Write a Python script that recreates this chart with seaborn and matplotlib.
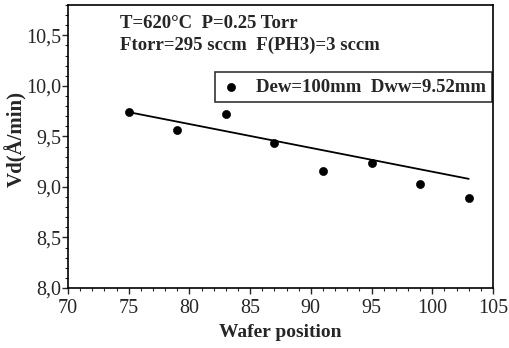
import matplotlib
matplotlib.use("Agg")
import matplotlib.pyplot as plt
from matplotlib.ticker import MultipleLocator, FuncFormatter
import seaborn as sns
import pandas as pd

# wafer positions and deposition rates
wafer_pos = [75, 79, 83, 87, 91, 95, 99, 103]
vd_rate = [9.74, 9.56, 9.72, 9.43, 9.16, 9.24, 9.03, 8.89]

# end points of the trend line
fit_x = [75, 103]
fit_y = [9.74, 9.08]

x_ticks = [70, 75, 80, 85, 90, 95, 100, 105]
y_ticks = [8.0, 8.5, 9.0, 9.5, 10.0, 10.5]

cond_line1 = "T=620°C  P=0.25 Torr"
cond_line2 = "Ftorr=295 sccm  F(PH3)=3 sccm"
series_label = "Dew=100mm  Dww=9.52mm"

sns.set_style("ticks")
plt.rcParams['font.family'] = ['Liberation Serif', 'DejaVu Serif']

df = pd.DataFrame({"pos": wafer_pos, "vd": vd_rate})
df_fit = pd.DataFrame({"pos": fit_x, "vd": fit_y})

fig = plt.figure(figsize=(5.1, 3.48), dpi=100)
ax = fig.add_axes([0.1333, 0.1724, 0.8334, 0.8132])

sns.lineplot(data=df_fit, x="pos", y="vd", ax=ax, color="black", lw=1.3)
sns.scatterplot(data=df, x="pos", y="vd", ax=ax, color="black", s=34,
                edgecolor="black", label=series_label, zorder=3)

ax.set_xlim(70, 105)
ax.set_ylim(8.0, 10.8)
ax.set_xticks(x_ticks)
ax.set_yticks(y_ticks)
ax.xaxis.set_minor_locator(MultipleLocator(1))
ax.yaxis.set_minor_locator(MultipleLocator(0.1))
ax.yaxis.set_major_formatter(FuncFormatter(lambda v, p: f"{v:.1f}".replace(".", ",")))
ax.tick_params(which="major", direction="out", length=4, width=1, labelsize=14.5)
ax.tick_params(axis="x", which="major", pad=4)
ax.tick_params(axis="y", which="major", pad=1)
ax.tick_params(which="minor", direction="out", length=2, width=0.8)
for s in ax.spines.values():
    s.set_visible(True)
    s.set_linewidth(1.2)
    s.set_color("black")

ax.set_xlabel("Wafer position", fontsize=14, fontweight="bold", labelpad=4)
ax.set_ylabel("Vd(Å/min)", fontsize=15, fontweight="bold")
ax.yaxis.set_label_coords(-0.097, 0.527)

ax.text(0.122, 0.933, cond_line1, transform=ax.transAxes, fontsize=13.5,
        fontweight="bold", va="center", ha="left")
ax.text(0.122, 0.856, cond_line2, transform=ax.transAxes, fontsize=13.5,
        fontweight="bold", va="center", ha="left")

leg = ax.legend(loc="upper right", bbox_to_anchor=(0.998, 0.763), frameon=True,
                fancybox=False, handletextpad=0.8, handlelength=1.0,
                borderpad=0.35, borderaxespad=0,
                prop={"weight": "bold", "size": 13.5})
leg.get_frame().set_edgecolor("black")
leg.get_frame().set_linewidth(1.2)

fig.savefig("out.png", dpi=100)
